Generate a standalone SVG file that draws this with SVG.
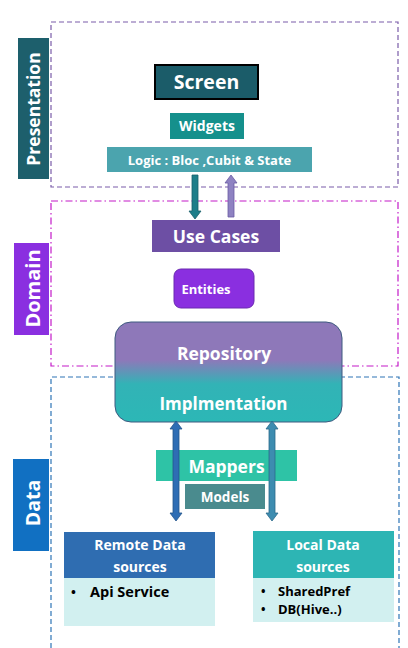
<svg xmlns="http://www.w3.org/2000/svg" width="408" height="648" viewBox="0 0 408 648">
<style>
text{font-family:"Open Sans",Lato,"Liberation Sans",sans-serif;font-weight:bold;fill:#fff;text-anchor:middle}
.dark{fill:#000;text-anchor:start}
.frame{fill:none;stroke-width:1.2}
</style>
<defs>
<linearGradient id="repoGrad" x1="0" y1="0" x2="0" y2="1">
<stop offset="0" stop-color="#8E78B9"/>
<stop offset="0.38" stop-color="#8E78B9"/>
<stop offset="0.62" stop-color="#32B3B6"/>
<stop offset="1" stop-color="#2CB7B6"/>
</linearGradient>
</defs>
<rect width="408" height="648" fill="#fff"/>
<g id="frames">
<rect id="presentation-frame" class="frame" x="51" y="22" width="347" height="165" stroke="#7B5DA9" stroke-dasharray="5,3"/>
<rect id="domain-frame" class="frame" x="51" y="201" width="347" height="165" stroke="#C31BC8" stroke-dasharray="7,3,1.5,3"/>
<path id="data-frame" class="frame" d="M51,648 V377 H399 V648" stroke="#2E75B6" stroke-dasharray="5,3"/>
</g>
<g id="label-presentation">
<rect x="18" y="38" width="31" height="141" fill="#1D5F6C"/>
<text transform="translate(39.5,109) rotate(-90)" font-size="17.5">Presentation</text>
</g>
<g id="label-domain">
<rect x="14" y="243" width="35" height="92" fill="#8A2FE0"/>
<text transform="translate(39.5,288.5) rotate(-90)" font-size="20">Domain</text>
</g>
<g id="label-data">
<rect x="13" y="459" width="36" height="92" fill="#1170C2"/>
<text transform="translate(39.5,503) rotate(-90)" font-size="19.5">Data</text>
</g>
<g id="screen">
<rect x="155" y="65" width="103" height="34" fill="#1B5C69" stroke="#000" stroke-width="2"/>
<text x="206.5" y="89" font-size="19.5">Screen</text>
</g>
<g id="widgets">
<rect x="170" y="113" width="74" height="26" fill="#15908C"/>
<text x="207" y="131" font-size="14">Widgets</text>
</g>
<g id="logic">
<rect x="107" y="147" width="205" height="25" fill="#4BA4AE"/>
<text x="209.5" y="164.5" font-size="13">Logic : Bloc ,Cubit &amp; State</text>
</g>
<g id="use-cases">
<rect x="152" y="220" width="128" height="32" fill="#6D4FA4"/>
<text x="216" y="242.5" font-size="17.5">Use Cases</text>
</g>
<g id="entities">
<rect x="174" y="269" width="80" height="39" rx="7" fill="#8A2FE0" stroke="#6A2AB0" stroke-width="1"/>
<text x="206" y="293.5" font-size="13">Entities</text>
</g>
<g id="repository">
<rect x="115" y="322" width="227" height="100" rx="16" fill="url(#repoGrad)" stroke="#3E5A80" stroke-width="1"/>
<text x="224" y="360" font-size="17.5">Repository</text>
<text x="223.5" y="410" font-size="17">Implmentation</text>
</g>
<g id="mappers">
<rect x="156" y="450" width="141" height="31" fill="#2EC3A6"/>
<text x="226.5" y="473" font-size="17.5">Mappers</text>
</g>
<g id="models">
<rect x="185" y="484" width="80" height="25" fill="#4A8B8E"/>
<text x="225" y="501.5" font-size="13.5">Models</text>
</g>
<g id="remote-data-sources">
<rect x="64" y="578" width="151" height="48" fill="#D2F0F0"/>
<rect x="64" y="532" width="151" height="46" fill="#2F6DB1"/>
<text x="140" y="550" font-size="14">Remote Data</text>
<text x="140" y="572" font-size="14">sources</text>
<text class="dark" x="71" y="597" font-size="13">•</text>
<text class="dark" x="90" y="597" font-size="14.5">Api Service</text>
</g>
<g id="local-data-sources">
<rect x="253" y="578" width="141" height="44" fill="#D2F0F0"/>
<rect x="253" y="531" width="141" height="47" fill="#2DB5B4"/>
<text x="323" y="550" font-size="14">Local Data</text>
<text x="323" y="572" font-size="14">sources</text>
<text class="dark" x="261" y="596" font-size="12">•</text>
<text class="dark" x="278" y="596" font-size="13">SharedPref</text>
<text class="dark" x="261" y="614" font-size="12">•</text>
<text class="dark" x="278" y="614" font-size="13">DB(Hive..)</text>
</g>
<g id="connectors">
<path id="logic-to-usecases" d="M192,175 H198 V211 H201 L195,219 L189,211 H192 Z" fill="#1E7E8A" stroke="#1A5F6A" stroke-width="0.8"/>
<path id="usecases-to-logic" d="M228,217 V183 H225 L231,175 L237,183 H234 V217 Z" fill="#8E82C2" stroke="#6A5CA2" stroke-width="0.8"/>
<path id="impl-remote" d="M176,421 L182,429 H179 V513 H182 L176,521 L170,513 H173 V429 H170 Z" fill="#2E6DB4" stroke="#24558C" stroke-width="0.8"/>
<path id="impl-local" d="M272,421 L278,429 H275 V513 H278 L272,521 L266,513 H269 V429 H266 Z" fill="#3D8CB0" stroke="#2B6A8A" stroke-width="0.8"/>
</g>
</svg>
